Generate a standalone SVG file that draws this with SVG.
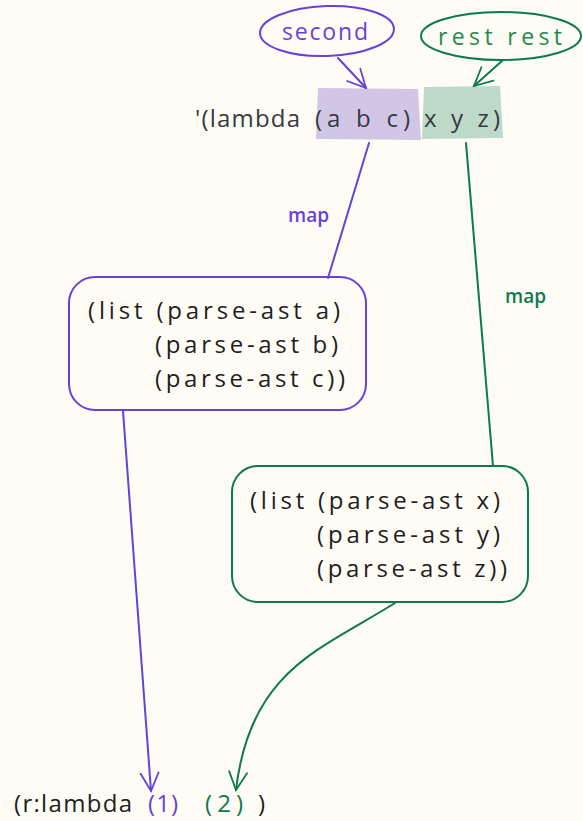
<svg xmlns="http://www.w3.org/2000/svg" width="583" height="821" viewBox="0 0 583 821">
<defs>
<style>
text{font-family:"Open Sans","Liberation Sans",sans-serif;}
.p{stroke:#6741d9;fill:none;stroke-width:2;stroke-linecap:round;stroke-linejoin:round}
.g{stroke:#0b7a4f;fill:none;stroke-width:2;stroke-linecap:round;stroke-linejoin:round}
.t{font-size:24px;fill:#1e1e1e}
.h{font-size:24px;fill:#343a40}
</style>
<marker id="ap" markerWidth="24" markerHeight="24" refX="20" refY="12" orient="auto" markerUnits="userSpaceOnUse"><path d="M2,3 L20,12 L2,21" fill="none" stroke="#6741d9" stroke-width="1.8" stroke-linecap="round"/></marker>
<marker id="ag" markerWidth="24" markerHeight="24" refX="20" refY="12" orient="auto" markerUnits="userSpaceOnUse"><path d="M2,3 L20,12 L2,21" fill="none" stroke="#0b7a4f" stroke-width="1.8" stroke-linecap="round"/></marker>
</defs>
<rect width="583" height="821" fill="#fffcf5"/>
<g id="highlight-abc"><path d="M318,88 L418,89 L421,140 L316,139 Z" fill="#d2c6e6"/></g>
<g id="highlight-xyz"><path d="M424,87 L500,86 L503,138 L422,139 Z" fill="#bddac9"/></g>
<g id="lambda-expr">
<text class="h" x="195" y="127" textLength="105">'(lambda</text>
<text class="h" x="315" y="127" textLength="95">(a b c)</text>
<text class="h" x="424" y="127" textLength="76">x y z)</text>
</g>
<g id="second">
<ellipse cx="327" cy="31" rx="67" ry="25" class="p" transform="rotate(-2 327 31)"/>
<text x="325" y="40" text-anchor="middle" font-size="23" fill="#6741d9" textLength="86">second</text>
</g>
<g id="rest-rest">
<ellipse cx="501" cy="36" rx="80" ry="24" class="g"/>
<text x="500" y="45" text-anchor="middle" font-size="23" fill="#1e8a4a" textLength="124">rest rest</text>
</g>
<g id="box-abc">
<rect x="69" y="277" width="297" height="133" rx="26" fill="#e5def0" class="p"/>
<text class="t" x="88" y="319" textLength="252">(list (parse-ast a)</text>
<text class="t" x="155" y="353" textLength="183">(parse-ast b)</text>
<text class="t" x="155" y="387" textLength="190">(parse-ast c))</text>
</g>
<g id="box-xyz">
<rect x="232" y="466" width="296" height="136" rx="26" fill="#d6eadf" class="g"/>
<text class="t" x="250" y="509" textLength="250">(list (parse-ast x)</text>
<text class="t" x="317" y="543" textLength="183">(parse-ast y)</text>
<text class="t" x="317" y="577" textLength="190">(parse-ast z))</text>
</g>
<g id="result">
<text class="t" x="14" y="812" textLength="118">(r:lambda</text>
<text class="t" x="148" y="812" style="fill:#6741d9" textLength="30">(1)</text>
<text class="t" x="205" y="812" style="fill:#0b7a4f" textLength="38">(2)</text>
<text class="t" x="258" y="812" textLength="8">)</text>
</g>
<g id="connectors">
<path class="p" d="M338,58 L366,88" marker-end="url(#ap)"/>
<path class="g" d="M503,60 L474,86" marker-end="url(#ag)"/>
<path class="p" d="M369,143 L328,278"/>
<text x="288" y="222" font-size="19" font-weight="600" fill="#6741d9">map</text>
<path class="g" d="M466,143 L493,466"/>
<text x="505" y="303" font-size="19" font-weight="600" fill="#0b7a4f">map</text>
<path class="p" d="M123,411 C130,520 140,650 151,791" marker-end="url(#ap)"/>
<path class="g" d="M395,603 C320,650 250,670 236,790" marker-end="url(#ag)"/>
</g>
</svg>
